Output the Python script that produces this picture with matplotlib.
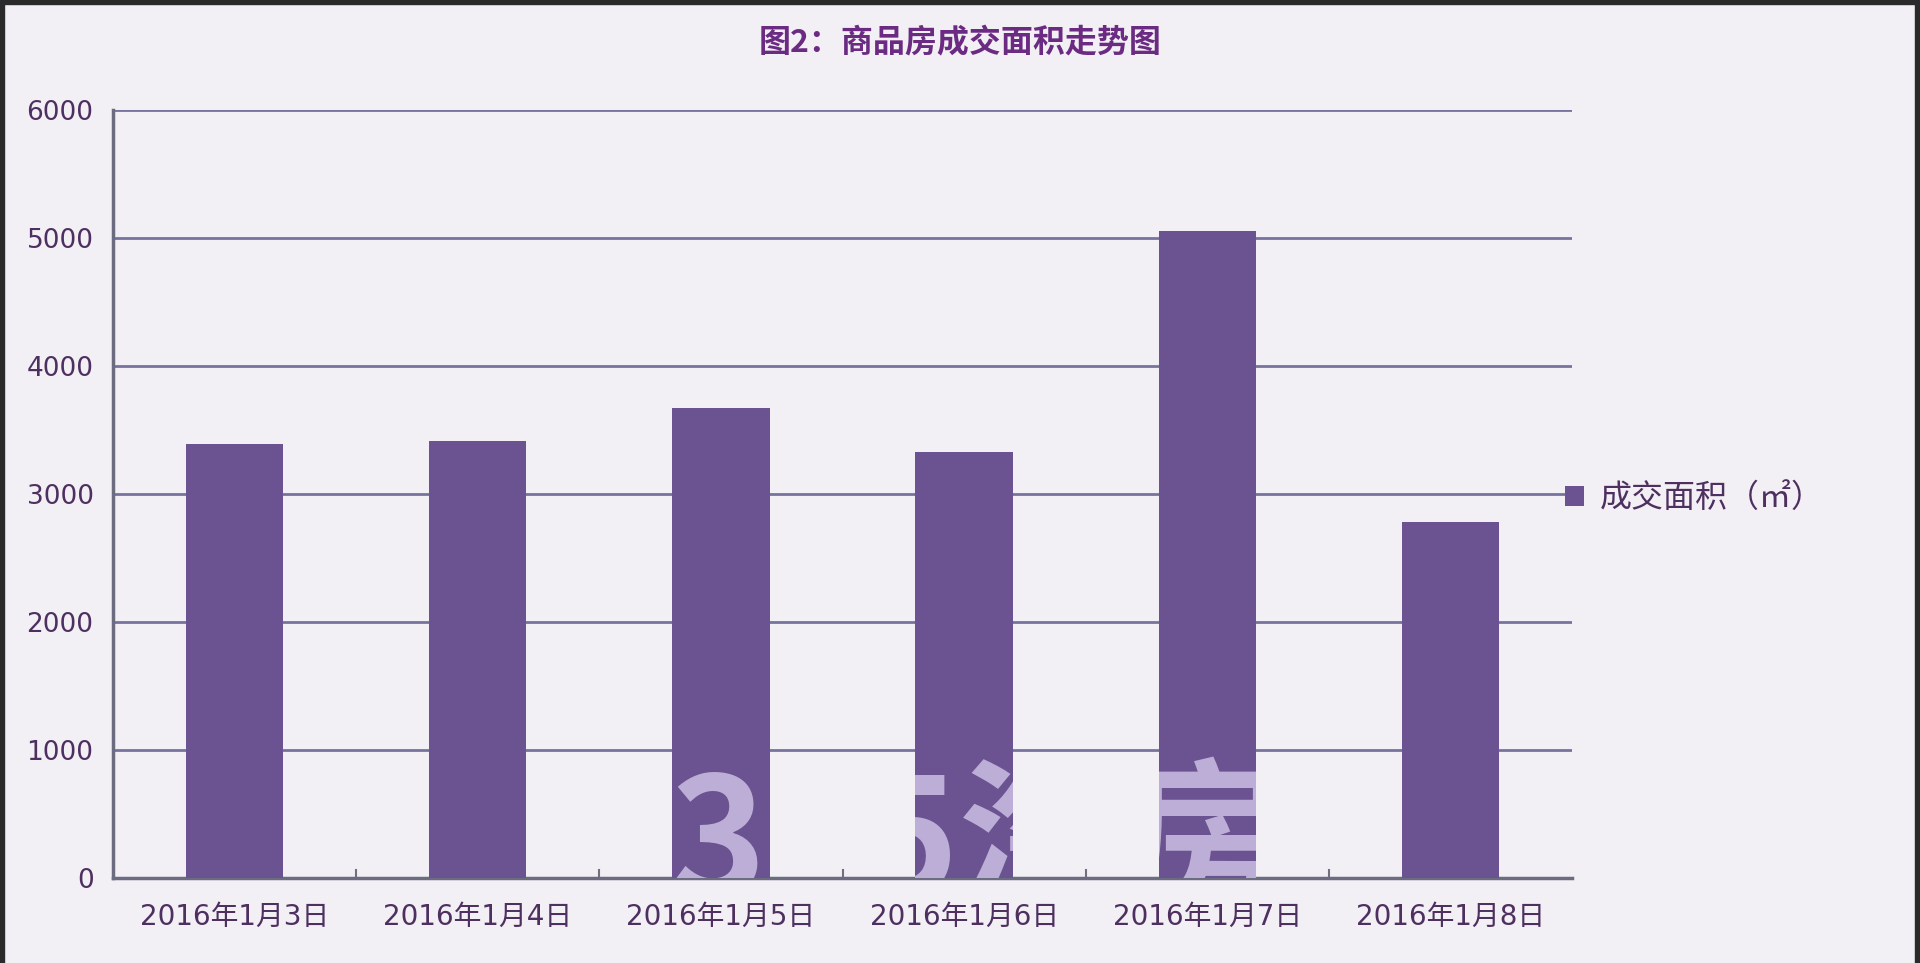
import matplotlib.pyplot as plt
from matplotlib.patches import Rectangle
from matplotlib.transforms import Bbox, TransformedBbox

plt.rcParams['font.family'] = ['Noto Sans CJK SC', 'DejaVu Sans']

# -------------------------
# data
# -------------------------
dates = ["2016年1月3日", "2016年1月4日", "2016年1月5日",
         "2016年1月6日", "2016年1月7日", "2016年1月8日"]
area = [3390, 3415, 3670, 3330, 5055, 2785]
yticks = [0, 1000, 2000, 3000, 4000, 5000, 6000]

title = "图2：商品房成交面积走势图"
series_name = "成交面积（㎡）"
watermark = "365淘房"

bg = "#F2F0F4"
bar_color = "#6B5290"
grid_color = "#77739F"
text_color = "#4E3060"
tick_fonts = ['DejaVu Sans', 'Noto Sans CJK SC']

fig = plt.figure(figsize=(19.2, 9.63), dpi=100, facecolor=bg)
ax = fig.add_axes([113 / 1920, 1 - 878 / 963, (1572 - 113) / 1920, (878 - 110) / 963])
ax.set_facecolor(bg)

x = range(len(dates))
bars = ax.bar(x, area, width=0.4, color=bar_color, zorder=3, label=series_name)

ax.set_xlim(-0.5, len(dates) - 0.5)
ax.set_ylim(0, 6000)
ax.set_yticks(yticks)
ax.set_yticklabels([str(v) for v in yticks], family=tick_fonts, fontsize=19,
                   color=text_color)
ax.set_xticks(list(x))
ax.set_xticklabels(dates, family=tick_fonts, fontsize=20, color=text_color)

ax.yaxis.grid(True, color=grid_color, linewidth=2, zorder=1)
ax.tick_params(axis='y', length=0, pad=14)
ax.tick_params(axis='x', length=0, pad=18)

# small tick marks between categories
for b in range(1, len(dates)):
    ax.plot([b - 0.5, b - 0.5], [0, 60], color="#707080", lw=1.5, zorder=2)

for s in ['top', 'right']:
    ax.spines[s].set_visible(False)
ax.spines['left'].set_color("#6C6C80")
ax.spines['left'].set_linewidth(2.5)
ax.spines['bottom'].set_color("#6C6C80")
ax.spines['bottom'].set_linewidth(2.5)

# watermark, only visible where it lies over the bars
# (Agg clips text by rectangle only, so clip each copy to one bar's box)
for bar in bars[2:5]:
    box = Bbox.from_bounds(bar.get_x(), bar.get_y(), bar.get_width(), bar.get_height())
    wm = ax.text(3.06, -140, watermark, fontsize=118, fontweight='bold',
                 color="#BCAED6", ha='center', va='baseline', zorder=4,
                 clip_on=True)
    wm.set_clip_box(TransformedBbox(box, ax.transData))

fig.text(0.5, 1 - 43 / 963, title, ha='center', va='center', fontsize=23,
         fontweight='bold', color="#6B2B82")

leg = fig.legend(handles=[bars], labels=[series_name], loc='center left',
                 bbox_to_anchor=(1565 / 1920, 1 - 498 / 963), frameon=False,
                 fontsize=23, handlelength=0.6, handleheight=0.6,
                 handletextpad=0.5, borderpad=0, borderaxespad=0)
for t in leg.get_texts():
    t.set_color(text_color)

# dark frame on the image edges
fig.patches.append(Rectangle((0, 0), 4 / 1920, 1, transform=fig.transFigure,
                             color="#2A2A2A", zorder=10))
fig.patches.append(Rectangle((0, 1 - 4 / 963), 1, 4 / 963, transform=fig.transFigure,
                             color="#2A2A2A", zorder=10))
fig.patches.append(Rectangle((1 - 5 / 1920, 0), 5 / 1920, 1, transform=fig.transFigure,
                             color="#2A2A2A", zorder=10))

fig.savefig("out.png", dpi=100, facecolor=bg)
